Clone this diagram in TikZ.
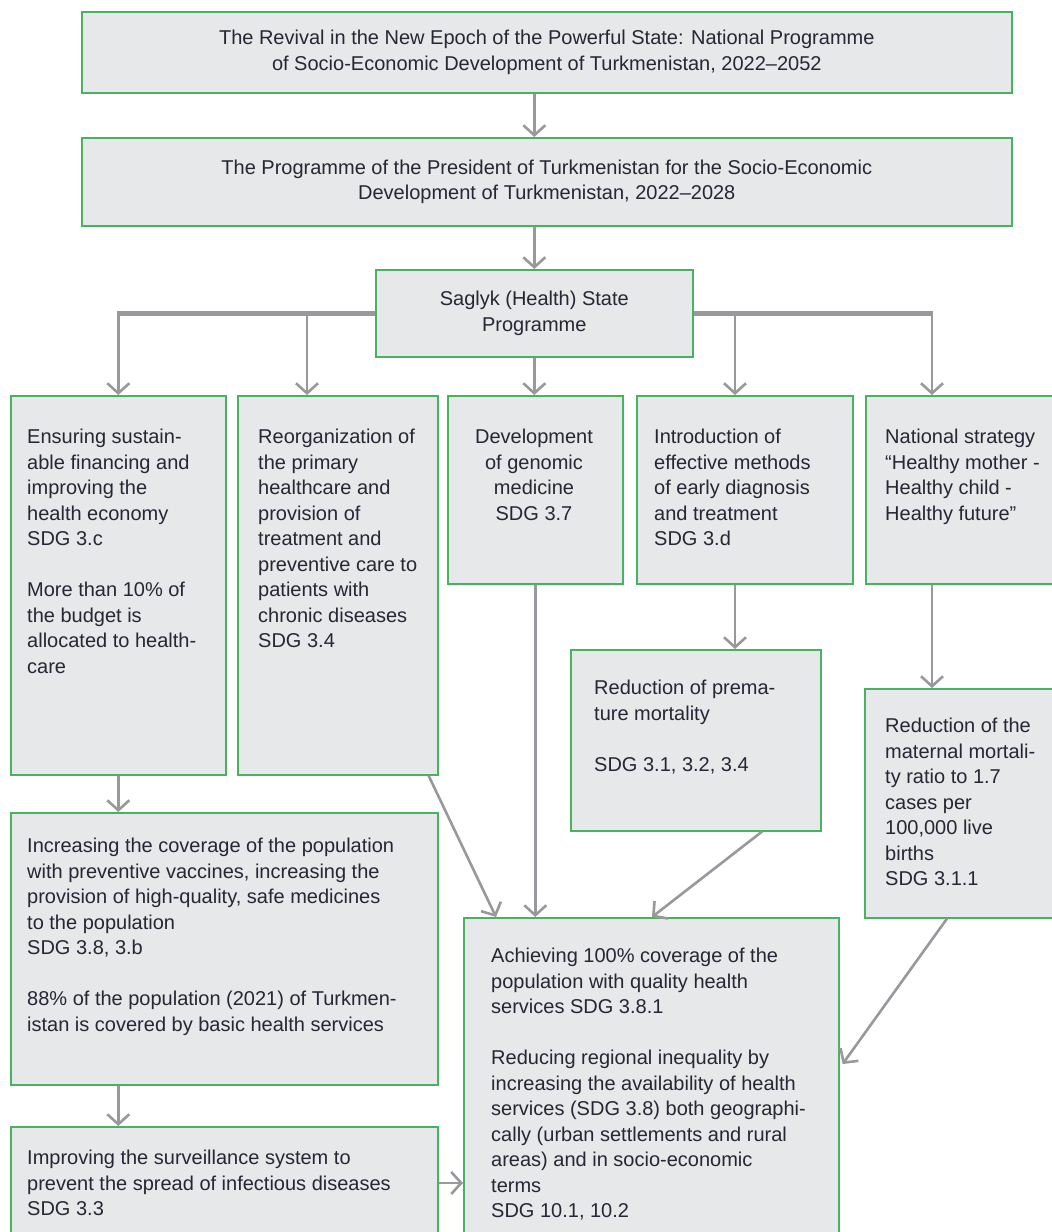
\documentclass[tikz,border=0pt]{standalone}
\usepackage{fontspec}
\setmainfont{Liberation Sans}
\usetikzlibrary{arrows.meta, positioning, calc}
\definecolor{cFill}{RGB}{231,232,234}
\definecolor{cEdge}{RGB}{72,178,96}
\definecolor{cLink}{RGB}{152,152,157}
\definecolor{cInk}{RGB}{38,38,52}
\tikzset{
  panel/.style={rectangle, draw=cEdge, fill=cFill, line width=1.6pt,
                inner sep=0pt, anchor=north west},
  txt/.style={inner sep=0pt, align=left, text=cInk, anchor=north west,
              font=\fontsize{20}{25.5}\selectfont, execute at begin node=\strut},
  txtc/.style={txt, align=center, anchor=north},
  headtxt/.style={align=center, text=cInk, font=\fontsize{20}{25.5}\selectfont},
  link/.style={-{Straight Barb[length=10pt,width=22pt]}, line width=2.6pt, color=cLink},
  bar/.style={line width=5pt, color=cLink}
}
\begin{document}
\begin{tikzpicture}[x=1pt, y=1pt]
  \useasboundingbox (0,0) rectangle (1052,-1232);
  \clip (0,0) rectangle (1052,-1232);

  % Programme levels
  \node[panel, headtxt, minimum width=930pt, minimum height=81pt] (revival) at (81,-11)
      {The Revival in the New Epoch of the Powerful State: National Programme\\
       of Socio-Economic Development of Turkmenistan, 2022–2052};
  \node[panel, headtxt, minimum width=930pt, minimum height=88pt] (programme) at (81,-137)
      {The Programme of the President of Turkmenistan for the Socio-Economic\\
       Development of Turkmenistan, 2022–2028};
  \node[panel, headtxt, minimum width=317pt, minimum height=87pt] (saglyk) at (375,-269)
      {Saglyk (Health) State\\Programme};

  % First row of directions
  \node[panel, minimum width=215pt, minimum height=379pt] (finance) at (10,-395) {};
  \node[panel, minimum width=200pt, minimum height=379pt] (reorg) at (237,-395) {};
  \node[panel, minimum width=175pt, minimum height=188pt] (genomic) at (447,-395) {};
  \node[panel, minimum width=216pt, minimum height=188pt] (diagnosis) at (636,-395) {};
  \node[panel, minimum width=200pt, minimum height=188pt] (mother) at (865,-395) {};

  \node[txt] (financeT) at (27,-429)
      {Ensuring sustain-\\able financing and\\improving the\\health economy\\SDG 3.c\\[25.5pt]
       More than 10\% of\\the budget is\\allocated to health-\\care};
  \node[txt] (reorgT) at (258,-429)
      {Reorganization of\\the primary\\healthcare and\\provision of\\treatment and\\
       preventive care to\\patients with\\chronic diseases\\SDG 3.4};
  \node[txtc] (genomicT) at (534,-429)
      {Development\\of genomic\\medicine\\SDG 3.7};
  \node[txt] (diagnosisT) at (654,-429)
      {Introduction of\\effective methods\\of early diagnosis\\and treatment\\SDG 3.d};
  \node[txt] (motherT) at (885,-429)
      {National strategy\\“Healthy mother -\\Healthy child -\\Healthy future”};

  % Targets
  \node[panel, minimum width=250pt, minimum height=181pt] (premature) at (570,-649) {};
  \node[panel, minimum width=200pt, minimum height=229pt] (maternal) at (864,-688) {};
  \node[panel, minimum width=427pt, minimum height=272pt] (coverage) at (10,-812) {};
  \node[panel, minimum width=375pt, minimum height=340pt] (achieve) at (463,-917) {};
  \node[panel, minimum width=427pt, minimum height=130pt] (surveil) at (10,-1126) {};

  \node[txt] (prematureT) at (594,-680)
      {Reduction of prema-\\ture mortality\\[25.5pt]SDG 3.1, 3.2, 3.4};
  \node[txt] (maternalT) at (885,-718)
      {Reduction of the\\maternal mortali-\\ty ratio to 1.7\\cases per\\100,000 live\\births\\SDG 3.1.1};
  \node[txt] (coverageT) at (27,-838)
      {Increasing the coverage of the population\\with preventive vaccines, increasing the\\
       provision of high-quality, safe medicines\\to the population\\SDG 3.8, 3.b\\[25.5pt]
       88\% of the population (2021) of Turkmen-\\istan is covered by basic health services};
  \node[txt] (achieveT) at (491,-948)
      {Achieving 100\% coverage of the\\population with quality health\\services SDG 3.8.1\\[25.5pt]
       Reducing regional inequality by\\increasing the availability of health\\
       services (SDG 3.8) both geographi-\\cally (urban settlements and rural\\
       areas) and in socio-economic\\terms\\SDG 10.1, 10.2};
  \node[txt] (surveilT) at (27,-1150)
      {Improving the surveillance system to\\prevent the spread of infectious diseases\\SDG 3.3};

  % Drop points
  \coordinate (dropA) at (finance.north);
  \coordinate (dropB) at ($(reorg.north west)+(70,0)$);
  \coordinate (dropD) at ($(diagnosis.north west)+(99,0)$);
  \coordinate (dropE) at ($(mother.north west)+(67,0)$);

  % Connectors
  \draw[link] (revival.south -| saglyk.north) -- (programme.north -| saglyk.north);
  \draw[link] (programme.south -| saglyk.north) -- (saglyk.north);

  \draw[bar] (saglyk.west) -- ($(dropA |- saglyk.west)+(-1.3,0)$);
  \draw[bar] (saglyk.east) -- ($(dropE |- saglyk.east)+(1.3,0)$);
  \draw[link] (dropA |- saglyk.west) -- (dropA);
  \draw[link] (dropB |- saglyk.west) -- (dropB);
  \draw[link] (saglyk.south) -- (saglyk.south |- genomic.north);
  \draw[link] (dropD |- saglyk.east) -- (dropD);
  \draw[link] (dropE |- saglyk.east) -- (dropE);

  \draw[link] (finance.south) -- (finance.south |- coverage.north);
  \draw[link] (finance.south |- coverage.south) -- (finance.south |- surveil.north);
  \draw[link] (dropD |- diagnosis.south) -- (dropD |- premature.north);
  \draw[link] (dropE |- mother.south) -- (dropE |- maternal.north);

  \draw[link] ($(reorg.south east)+(-10,0)$) -- ($(achieve.north west)+(33,0)$);
  \draw[link] (genomic.south) -- (genomic.south |- achieve.north);
  \draw[link] ($(premature.south west)+(192,0)$) -- ($(achieve.north west)+(189,0)$);
  \draw[link] ($(maternal.south west)+(83,0)$) -- ($(achieve.north east)+(3,-147)$);
  \coordinate (svOut) at ($(surveil.north east)+(0,-57)$);
  \draw[link] (svOut) -- (svOut -| achieve.west);

\end{tikzpicture}
\end{document}
